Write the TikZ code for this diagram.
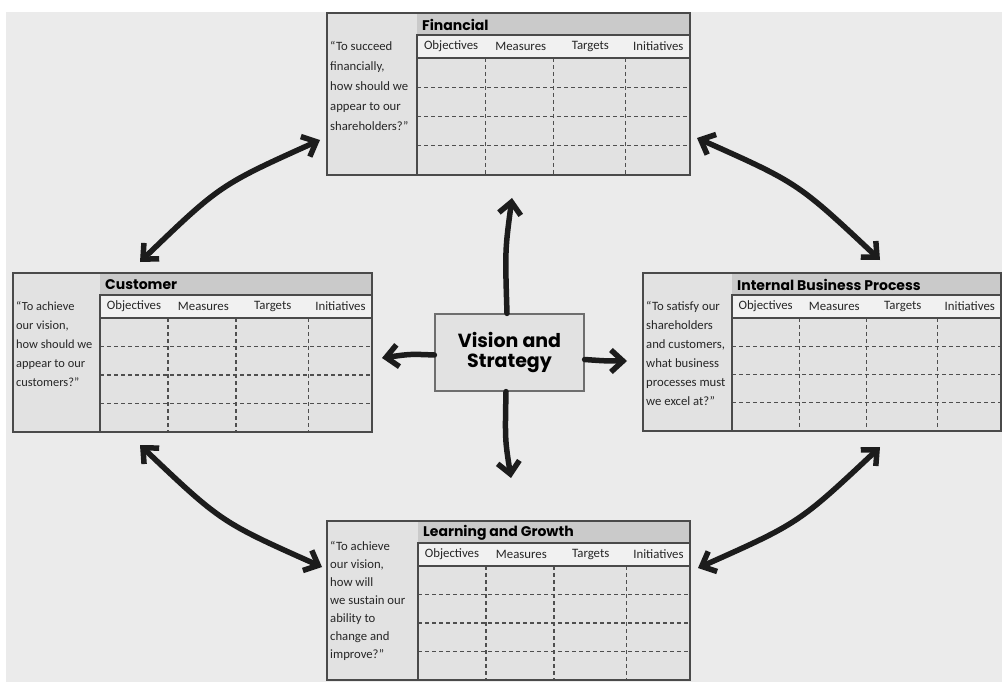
\documentclass[tikz,border=0pt]{standalone}
\usepackage{fontspec}
\setmainfont{Carlito}
\newfontfamily\headfont{Poppins}
\usetikzlibrary{arrows.meta}

\definecolor{paper}{HTML}{EBEBEB}
\definecolor{cellfill}{HTML}{E2E2E2}
\definecolor{bandfill}{HTML}{CACACA}
\definecolor{hdrfill}{HTML}{F1F1F1}
\definecolor{boxline}{HTML}{4A4A4A}
\definecolor{gridgray}{HTML}{4F4F4F}
\definecolor{ink}{HTML}{1C1C1C}
\definecolor{textgray}{HTML}{262626}

\tikzset{
  panelfill/.style={fill=cellfill, inner sep=0pt, outer sep=0pt},
  frame/.style={draw=boxline, line width=1.3pt},
  gridline/.style={draw=gridgray, line width=1.1pt, dash pattern=on 4pt off 3pt},
  titletext/.style={anchor=west, inner sep=0pt, text=black,
    font=\headfont\bfseries\fontsize{14}{14}\selectfont},
  coltext/.style={inner sep=0pt, text=textgray, font=\fontsize{12.8}{12.8}\selectfont},
  quotetext/.style={anchor=north west, align=left, inner sep=0pt, text=textgray},
  visionbox/.style={draw=boxline!80, line width=1.2pt, fill=cellfill,
    minimum width=149pt, minimum height=77pt, align=center, text=black,
    font=\headfont\bfseries\fontsize{19}{20}\selectfont},
  bigarrow/.style={draw=ink, line width=5.5pt, line cap=round,
    arrows={Straight Barb[length=12pt,width=22pt]-Straight Barb[length=12pt,width=22pt]}},
  onearrow/.style={draw=ink, line width=5.5pt, line cap=round,
    -{Straight Barb[length=12pt,width=22pt]}}
}

% One scorecard panel: name, left, top, right, bottom, edge of the quote column, title
\newcommand\bscpanel[7]{%
  \pgfmathsetmacro\pw{#4-#2}%
  \pgfmathsetmacro\ph{#5-#3}%
  \pgfmathsetmacro\tw{#4-#6}%
  \pgfmathsetmacro\rh{(#5-#3-45)/4}%
  \node[panelfill, minimum width=\pw pt, minimum height=\ph pt] (#1) at ({(#2+#4)/2},{(#3+#5)/2}) {};
  \fill[bandfill] (#6,#3) rectangle (#4,#3+22);
  \node[titletext] (#1-title) at (#6+5,#3+11.5) {#7};
  \foreach \i in {1,2,3} {
    \draw[gridline] (#6,{#3+45+\i*\rh}) -- (#4,{#3+45+\i*\rh});
  }
  \foreach \f in {0.25,0.5,0.765} {
    \draw[gridline] ({#6+\f*\tw},#3+45) -- ({#6+\f*\tw},#5);
  }
  \filldraw[fill=hdrfill, frame] (#6,#3+22) rectangle (#4,#3+45);
  \node[coltext] (#1-obj) at ({#6+0.125*\tw},#3+33.5) {Objectives};
  \node[coltext] (#1-mea) at ({#6+0.38*\tw},#3+33.5) {Measures};
  \node[coltext] (#1-tar) at ({#6+0.635*\tw},#3+33.5) {Targets};
  \node[coltext] (#1-ini) at ({#6+0.884*\tw},#3+33.5) {Initiatives};
  \draw[frame] (#6,#3+22) -- (#6,#5);
  \draw[frame] (#1.north west) rectangle (#1.south east);
}

\begin{document}
\begin{tikzpicture}[x=1pt, y=-1pt]
  \useasboundingbox (0,0) rectangle (1002,682);
  \fill[white] (0,0) rectangle (1002,682);
  \fill[paper] (6,12) rectangle (1002,682);

  % the four perspectives
  \bscpanel{fin}{327}{13}{690}{175}{417}{Financial}
  \bscpanel{cus}{13}{273}{372}{432}{100}{Customer}
  \bscpanel{ibp}{643}{273}{1001}{431}{732}{Internal Business Process}
  \bscpanel{lrn}{327}{521}{690}{680}{418}{Learning and Growth}

  \node[quotetext, font=\fontsize{12.7}{20}\selectfont] (fin-q) at (330,41)
    {“To succeed\\financially,\\how should we\\appear to our\\shareholders?”};
  \node[quotetext, font=\fontsize{12.4}{19}\selectfont] (cus-q) at (16,301)
    {“To achieve\\our vision,\\how should we\\appear to our\\customers?”};
  \node[quotetext, font=\fontsize{12.7}{19}\selectfont] (ibp-q) at (646,301)
    {“To satisfy our\\shareholders\\and customers,\\what business\\processes must\\we excel at?”};
  \node[quotetext, font=\fontsize{12.7}{18}\selectfont] (lrn-q) at (330,541)
    {“To achieve\\our vision,\\how will\\we sustain our\\ability to\\change and\\improve?”};

  % centre
  \node[visionbox] (vs) at (509.5,352.5) {Vision and\\Strategy};

  % free ends of the arrows leaving the centre
  \coordinate (vs-up) at (512,198);
  \coordinate (vs-dn) at (511,478);
  \coordinate (vs-lt) at (382,358);
  \coordinate (vs-rt) at (627,361);

  \draw[onearrow] ([xshift=-2.5pt]vs.north) .. controls (505,250) .. (vs-up);
  \draw[onearrow] ([xshift=-3.5pt]vs.south) .. controls (505,440) .. (vs-dn);
  \draw[onearrow] ([yshift=-2.5pt]vs.west) .. controls (410,354) .. (vs-lt);
  \draw[onearrow] ([yshift=-7pt]vs.east) .. controls (606,361) .. (vs-rt);

  % ends of the links between neighbouring perspectives
  \coordinate (fin-l) at ([xshift=-7pt,yshift=35pt]fin.south west);
  \coordinate (fin-r) at ([xshift=7pt,yshift=37pt]fin.south east);
  \coordinate (cus-t) at ([xshift=127pt,yshift=11pt]cus.north west);
  \coordinate (cus-b) at ([xshift=127pt,yshift=-13pt]cus.south west);
  \coordinate (ibp-t) at ([xshift=237pt,yshift=13pt]ibp.north west);
  \coordinate (ibp-b) at ([xshift=237pt,yshift=-16pt]ibp.south west);
  \coordinate (lrn-l) at ([xshift=-5pt,yshift=-46pt]lrn.north west);
  \coordinate (lrn-r) at ([xshift=8pt,yshift=-47pt]lrn.north east);

  \draw[bigarrow] (fin-l) .. controls (220,185) .. (cus-t);
  \draw[bigarrow] (fin-r) .. controls (798,183) .. (ibp-t);
  \draw[bigarrow] (cus-b) .. controls (221,522) .. (lrn-l);
  \draw[bigarrow] (ibp-b) .. controls (799,523) .. (lrn-r);
\end{tikzpicture}
\end{document}
